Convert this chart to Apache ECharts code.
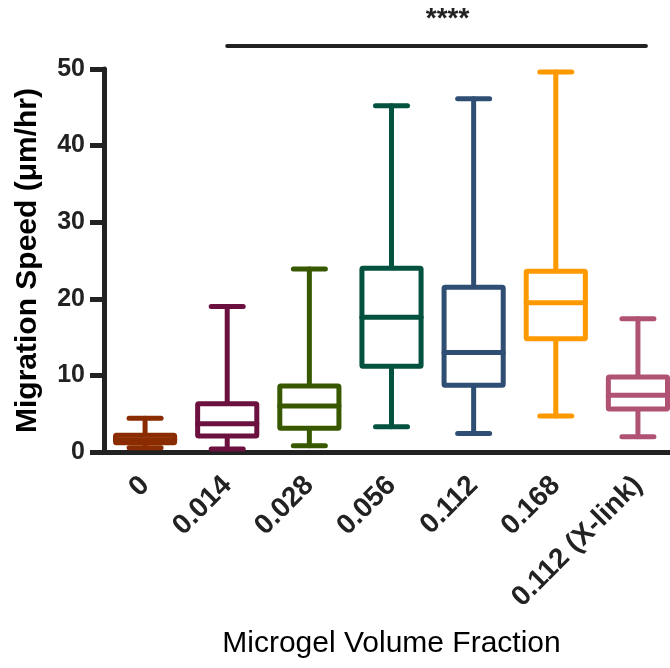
<!DOCTYPE html>
<html lang="en">
<head>
    <meta charset="utf-8">
    <title>Migration Speed</title>
    <script src="https://cdn.jsdelivr.net/npm/echarts@6/dist/echarts.min.js"></script>
    <style type="text/css">
        html, body {
            margin: 0;
            padding: 0;
            background: #ffffff;
        }

        #main {
            width: 670px;
            height: 668px;
        }
    </style>
</head>
<body>
<div id="main"></div>
<script type="text/javascript">
    // categories (x axis)
    let fractions = ['0', '0.014', '0.028', '0.056', '0.112', '0.168', '0.112 (X-link)'];
    // box plot values
    let whiskerLow = [0.55, 0.4, 0.8, 3.3, 2.4, 4.7, 2.0];
    let q1 = [1.2, 2.1, 3.1, 11.2, 8.7, 14.8, 5.6];
    let median = [1.6, 3.7, 6.0, 17.6, 13.0, 19.5, 7.4];
    let q3 = [2.2, 6.3, 8.6, 24.0, 21.5, 23.6, 9.8];
    let whiskerHigh = [4.4, 19.0, 23.9, 45.2, 46.1, 49.6, 17.4];
    let boxColors = ['#8a2c00', '#6c1040', '#385800', '#03513f', '#2f4e74', '#ff9900', '#b05274'];
    // significance bar: from category 1 to category 6
    let sigBar = [[1, 6, 53, '****']];
    let yTicks = [0, 10, 20, 30, 40, 50];

    let fontFam = '"Liberation Sans", Arial, Helvetica, sans-serif';
    let ink = '#222222';

    let boxData = [];
    for (let i = 0; i < fractions.length; i++) {
        boxData.push([i, whiskerLow[i], q1[i], median[i], q3[i], whiskerHigh[i]]);
    }

    function renderBox(params, api) {
        let x = api.value(0);
        let color = boxColors[params.dataIndex];
        let bandW = api.size([1, 0])[0];
        let halfBox = bandW * 0.36;
        let halfCap = 16;
        let pLow = api.coord([x, api.value(1)]);
        let pQ1 = api.coord([x, api.value(2)]);
        let pMed = api.coord([x, api.value(3)]);
        let pQ3 = api.coord([x, api.value(4)]);
        let pHigh = api.coord([x, api.value(5)]);
        let cx = pMed[0];
        let ls = {stroke: color, lineWidth: 5, lineCap: 'round', fill: null};
        return {
            type: 'group',
            children: [
                {type: 'line', shape: {x1: cx, y1: pQ3[1], x2: cx, y2: pHigh[1]}, style: ls},
                {type: 'line', shape: {x1: cx, y1: pQ1[1], x2: cx, y2: pLow[1]}, style: ls},
                {type: 'line', shape: {x1: cx - halfCap, y1: pHigh[1], x2: cx + halfCap, y2: pHigh[1]}, style: ls},
                {type: 'line', shape: {x1: cx - halfCap, y1: pLow[1], x2: cx + halfCap, y2: pLow[1]}, style: ls},
                {
                    type: 'rect',
                    shape: {x: cx - halfBox, y: pQ3[1], width: halfBox * 2, height: pQ1[1] - pQ3[1], r: 1},
                    style: {stroke: color, lineWidth: 5, fill: '#ffffff', lineJoin: 'round'}
                },
                {type: 'line', shape: {x1: cx - halfBox, y1: pMed[1], x2: cx + halfBox, y2: pMed[1]}, style: ls}
            ]
        };
    }

    function renderSig(params, api) {
        let a = api.coord([api.value(0), api.value(2)]);
        let b = api.coord([api.value(1), api.value(2)]);
        let right = b[0] + 8;
        return {
            type: 'group',
            children: [
                {
                    type: 'line',
                    shape: {x1: a[0], y1: a[1], x2: right, y2: b[1]},
                    style: {stroke: ink, lineWidth: 4, lineCap: 'round'}
                },
                {
                    type: 'text',
                    style: {
                        text: sigBar[params.dataIndex][3],
                        x: (a[0] + right) / 2 + 11,
                        y: a[1] - 41,
                        align: 'center',
                        verticalAlign: 'top',
                        fontSize: 28,
                        fontWeight: 'bold',
                        fontFamily: fontFam,
                        fill: ink
                    }
                }
            ]
        };
    }

    let myChart = echarts.init(document.getElementById('main'), null, {renderer: 'canvas'});
    myChart.setOption({
        animation: false,
        backgroundColor: '#ffffff',
        grid: {left: 104, top: 69, bottom: 216, right: -9, containLabel: false, outerBoundsMode: 'none'},
        xAxis: {
            type: 'category',
            data: fractions,
            name: 'Microgel Volume Fraction',
            nameLocation: 'middle',
            nameGap: 177,
            nameTextStyle: {fontSize: 30, color: '#000000', fontFamily: fontFam},
            axisLine: {lineStyle: {color: ink, width: 5}},
            axisTick: {alignWithLabel: true, length: 12, lineStyle: {color: ink, width: 5}},
            axisLabel: {
                rotate: 45,
                interval: 0,
                margin: 29,
                fontSize: 28,
                fontWeight: 'bold',
                color: ink,
                fontFamily: fontFam
            },
            splitLine: {show: false}
        },
        yAxis: {
            type: 'value',
            min: yTicks[0],
            max: yTicks[yTicks.length - 1],
            interval: 10,
            name: 'Migration Speed (\u03bcm/hr)',
            nameLocation: 'middle',
            nameRotate: 90,
            nameGap: 61,
            nameTextStyle: {fontSize: 30, fontWeight: 'bold', color: '#000000', fontFamily: fontFam},
            axisLine: {show: true, lineStyle: {color: ink, width: 5}},
            axisTick: {show: true, length: 14, lineStyle: {color: ink, width: 5}},
            axisLabel: {fontSize: 25, fontWeight: 'bold', color: ink, margin: 19, fontFamily: fontFam},
            splitLine: {show: false}
        },
        series: [
            {
                type: 'custom',
                renderItem: renderBox,
                data: boxData,
                encode: {x: 0, y: [1, 2, 3, 4, 5]},
                clip: false,
                z: 3
            },
            {
                type: 'custom',
                renderItem: renderSig,
                data: sigBar,
                encode: {x: [0, 1], y: 2},
                clip: false,
                silent: true
            }
        ]
    });
</script>
</body>
</html>
